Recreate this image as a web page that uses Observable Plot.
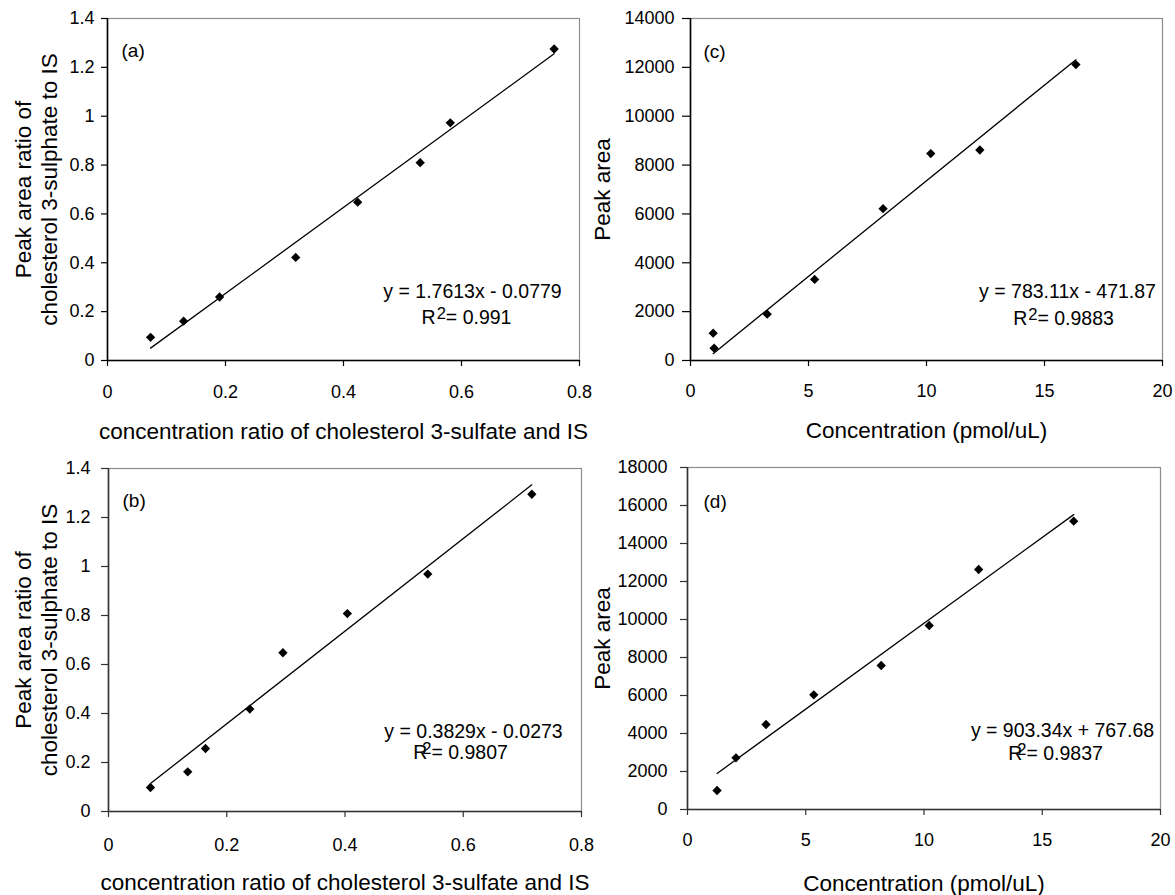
<!DOCTYPE html>
<html><head><meta charset="utf-8">
<script src="https://cdn.jsdelivr.net/npm/d3@7"></script>
<script src="https://cdn.jsdelivr.net/npm/@observablehq/plot@0.6"></script>
<style>
body{margin:0;background:#fff;}
#fig{position:relative;width:1175px;height:895px;font-family:"Liberation Sans",Arial,sans-serif;}
.panel{position:absolute;}
</style></head><body><div id="fig"></div>
<script>
// ---- data ----
const panelLabels = ["(a)", "(b)", "(c)", "(d)"];
const ratioXTitle = "concentration ratio of cholesterol 3-sulfate and IS";
const ratioYTitle = "Peak area ratio of\ncholesterol 3-sulphate to IS";
const concXTitle = "Concentration (pmol/uL)";
const areaYTitle = "Peak area";

const aX = [0.073, 0.129, 0.190, 0.319, 0.424, 0.530, 0.581, 0.757];
const aY = [0.095, 0.161, 0.260, 0.422, 0.648, 0.810, 0.973, 1.275];
const bX = [0.071, 0.134, 0.164, 0.239, 0.295, 0.404, 0.540, 0.716];
const bY = [0.098, 0.162, 0.257, 0.418, 0.648, 0.808, 0.969, 1.295];
const cX = [0.96, 1.0, 3.25, 5.26, 8.16, 10.18, 12.26, 16.33];
const cY = [1119, 504, 1897, 3319, 6215, 8469, 8617, 12115];
const dX = [1.25, 2.05, 3.32, 5.34, 8.19, 10.22, 12.31, 16.33];
const dY = [1000, 2721, 4474, 6037, 7579, 9684, 12632, 15174];

// trend lines (slope, intercept) as drawn
const fitSlope = [1.7613, 1.89, 783.11, 903.34];
const fitIntercept = [-0.0779, -0.02, -471.87, 767.68];
const eqText = ["y = 1.7613x - 0.0779", "y = 0.3829x - 0.0273", "y = 783.11x - 471.87", "y = 903.34x + 767.68"];
const r2Text = ["R2= 0.991", "R2= 0.9807", "R2= 0.9883", "R2= 0.9837"];

const ratioTicksX = [0, 0.2, 0.4, 0.6, 0.8];
const ratioTicksY = [0, 0.2, 0.4, 0.6, 0.8, 1, 1.2, 1.4];
const concTicksX = [0, 5, 10, 15, 20];
const areaTicksC = [0, 2000, 4000, 6000, 8000, 10000, 12000, 14000];
const areaTicksD = [0, 2000, 4000, 6000, 8000, 10000, 12000, 14000, 16000, 18000];

// ---- drawing ----
const FONT = '"Liberation Sans", Arial, sans-serif';
const fmt = d3.format("~g");

function panel(cfg) {
  const pts = cfg.x.map((x, i) => ({x, y: cfg.y[i]}));
  const ext = d3.extent(cfg.x);
  const fit = ext.map(x => ({x, y: fitSlope[cfg.i] * x + fitIntercept[cfg.i]}));
  const svg = Plot.plot({
    width: cfg.width, height: cfg.height,
    marginLeft: cfg.ml, marginRight: cfg.mr, marginTop: cfg.mt, marginBottom: cfg.mb,
    x: {domain: cfg.xDomain},
    y: {domain: cfg.yDomain},
    style: {fontFamily: FONT, fontSize: "18px", color: "#000", background: "transparent", overflow: "visible"},
    marks: [
      Plot.frame({stroke: "#8c8c8c", strokeWidth: 1.2}),
      Plot.axisX({ticks: cfg.xTicks, tickFormat: fmt, tickSize: 6, tickPadding: cfg.xPad, label: null, stroke: cfg.axisColor, strokeWidth: 1.2, fill: "#000"}),
      Plot.axisY({ticks: cfg.yTicks, tickFormat: fmt, tickSize: cfg.yTick, tickPadding: cfg.yPad, label: null, stroke: cfg.axisColor, strokeWidth: 1.2, fill: "#000"}),
      Plot.ruleX([cfg.xDomain[0]], {stroke: cfg.axisColor, strokeWidth: 1.6}),
      Plot.ruleY([cfg.yDomain[0]], {stroke: cfg.axisColor, strokeWidth: 1.6}),
      Plot.line(fit, {x: "x", y: "y", stroke: "#000", strokeWidth: 1.3}),
      Plot.dot(pts, {x: "x", y: "y", symbol: "diamond2", r: 4.2, fill: "#000", stroke: "none"}),
      Plot.text([cfg.xTitle], {text: d => d, frameAnchor: "bottom", dy: cfg.xTitleDy, textAnchor: "middle", fontSize: 22.5, lineAnchor: "middle", fill: "#000"}),
      Plot.text([cfg.yTitle], {text: d => d, frameAnchor: "left", dx: cfg.yTitleDx, rotate: -90, textAnchor: "middle", fontSize: 22.5, lineAnchor: "middle", lineHeight: 1.18, fill: "#000"}),
      Plot.text([panelLabels[cfg.i]], {text: d => d, frameAnchor: "top-left", dx: cfg.labDx, dy: cfg.labDy, textAnchor: "start", lineAnchor: "middle", fontSize: 19, fill: "#000"}),
      Plot.text([eqText[cfg.i]], {text: d => d, frameAnchor: "bottom-right", dx: cfg.eqDx, dy: cfg.eqDy, textAnchor: "middle", lineAnchor: "middle", fontSize: 19.5, fill: "#000"}),
      Plot.text([r2Text[cfg.i]], {text: d => d, frameAnchor: "bottom-right", dx: cfg.r2Dx, dy: cfg.r2Dy, textAnchor: "middle", lineAnchor: "middle", fontSize: 19.5, fill: "#000"})
    ]
  });
  // superscript 2 in R²
  d3.select(svg).selectAll("text").each(function () {
    const t = this.textContent;
    if (this.childElementCount === 0 && t.startsWith("R2=")) {
      const rest = t.slice(2);
      const sel = d3.select(this);
      sel.text(null);
      sel.append("tspan").text("R");
      sel.append("tspan").attr("dx", cfg.supDx + "px").attr("dy", "-5px").attr("font-size", "0.85em").text("2");
      sel.append("tspan").attr("dy", "5px").text(rest);
    }
  });
  const div = document.createElement("div");
  div.className = "panel";
  div.style.left = cfg.left + "px";
  div.style.top = cfg.top + "px";
  div.appendChild(svg);
  document.getElementById("fig").appendChild(div);
}

panel({i: 0, left: 0, top: 0, width: 587, height: 430, ml: 107, mr: 8, mt: 18, mb: 70,
  x: aX, y: aY, xDomain: [0, 0.8], yDomain: [0, 1.4], xTicks: ratioTicksX, yTicks: ratioTicksY,
  xPad: 19, yTick: 6, yPad: 7, axisColor: "#000",
  xTitle: ratioXTitle, yTitle: ratioYTitle, xTitleDy: 71, yTitleDx: -72,
  labDx: 14, labDy: 32, eqDx: -107, eqDy: -69, r2Dx: -113, r2Dy: -43, supDx: 1});

panel({i: 1, left: 0, top: 430, width: 587, height: 465, ml: 108, mr: 6, mt: 38, mb: 84,
  x: bX, y: bY, xDomain: [0, 0.8], yDomain: [0, 1.4], xTicks: ratioTicksX, yTicks: ratioTicksY,
  xPad: 21, yTick: 7, yPad: 11, axisColor: "#333",
  xTitle: ratioXTitle, yTitle: ratioYTitle, xTitleDy: 71, yTitleDx: -73,
  labDx: 14, labDy: 32, eqDx: -108, eqDy: -80, r2Dx: -121, r2Dy: -59, supDx: -5});

panel({i: 2, left: 587, top: 0, width: 588, height: 430, ml: 103, mr: 13, mt: 18, mb: 70,
  x: cX, y: cY, xDomain: [0, 20], yDomain: [0, 14000], xTicks: concTicksX, yTicks: areaTicksC,
  xPad: 18, yTick: 8, yPad: 8, axisColor: "#000",
  xTitle: concXTitle, yTitle: areaYTitle, xTitleDy: 70, yTitleDx: -89,
  labDx: 13, labDy: 33, eqDx: -95, eqDy: -69, r2Dx: -99, r2Dy: -42, supDx: 1});

panel({i: 3, left: 587, top: 430, width: 588, height: 465, ml: 100, mr: 15, mt: 37, mb: 86,
  x: dX, y: dY, xDomain: [0, 20], yDomain: [0, 18000], xTicks: concTicksX, yTicks: areaTicksD,
  xPad: 18, yTick: 7, yPad: 13, axisColor: "#333",
  xTitle: concXTitle, yTitle: areaYTitle, xTitleDy: 74, yTitleDx: -86,
  labDx: 16, labDy: 34, eqDx: -98, eqDy: -79, r2Dx: -105, r2Dy: -56, supDx: -5});
</script>
</body></html>
